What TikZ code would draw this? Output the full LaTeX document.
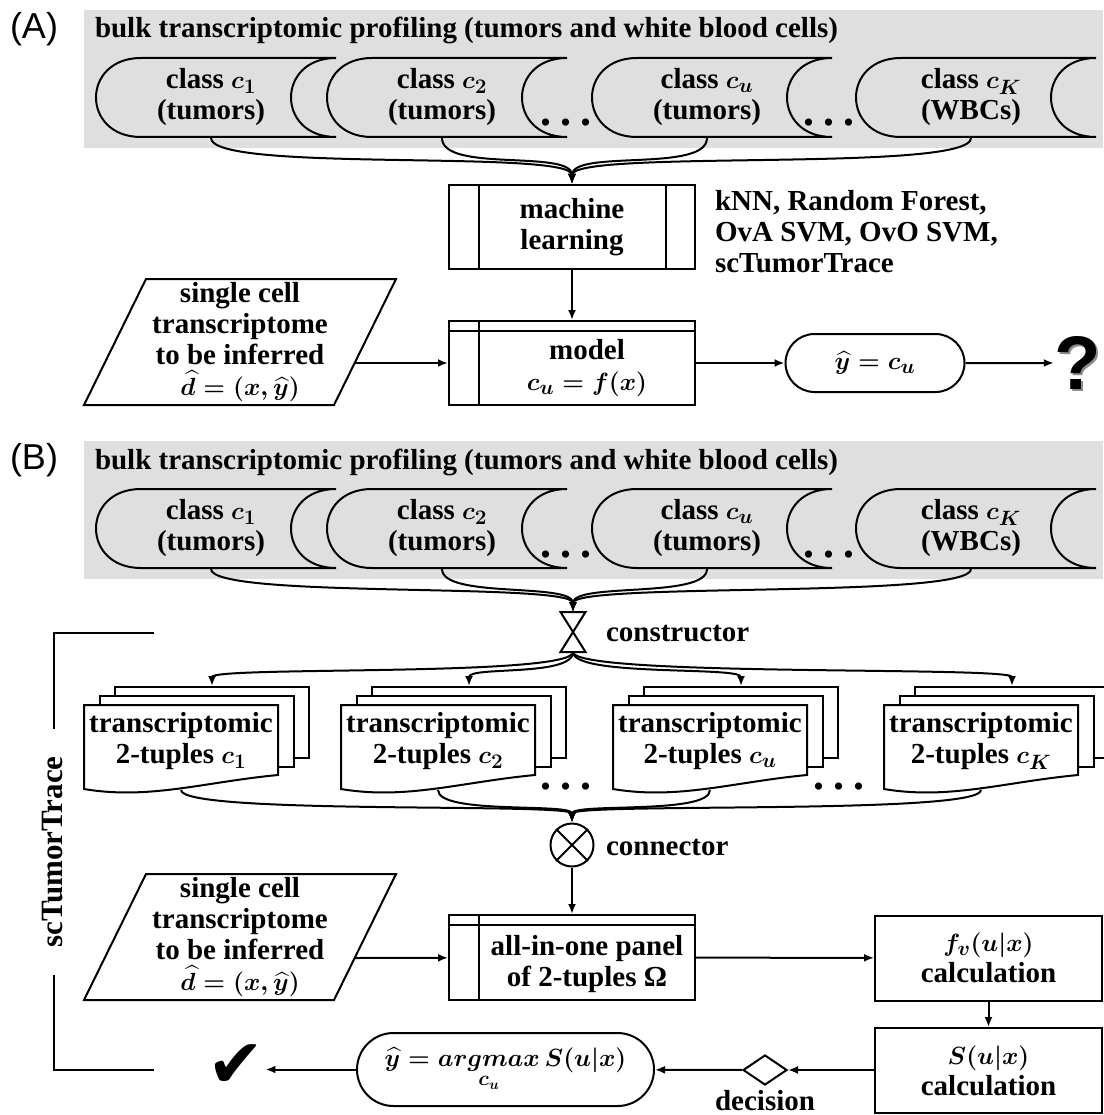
\documentclass[tikz,border=0pt]{standalone}
\usepackage{fontspec}
\setmainfont{Liberation Serif}
\setsansfont{Liberation Sans}
\newfontfamily\symfont{DejaVu Sans}
\usepackage{amsmath}
\DeclareMathSizes{29}{31}{20}{15}
\usetikzlibrary{arrows.meta,shapes.geometric,shapes.misc}
\definecolor{bandgray}{RGB}{223,223,223}
\definecolor{shadowgray}{RGB}{140,140,140}
\newcommand{\bigdots}{{\fontsize{44}{44}\selectfont .\hspace{9pt}.\hspace{9pt}.}}

\begin{document}
\begin{tikzpicture}[x=1pt,y=-1pt,>={Latex[length=10pt,width=8pt]},line width=2pt,
    every node/.style={font=\fontsize{29}{31}\selectfont\bfseries\boldmath,align=center,inner sep=0pt},
    panel/.style={font=\fontsize{36}{40}\selectfont\sffamily},
    box/.style={draw,minimum width=246pt,minimum height=84pt},
    calcbox/.style={draw,minimum width=227pt,minimum height=85pt},
    term/.style={draw,rounded rectangle},
    flow/.style={->}]
\useasboundingbox (0,0) rectangle (1103,1115);

% bulk profiling, panels A and B
\foreach \oy/\p/\q in {0/a/A,431/b/B}{
  \fill[bandgray] (84,{10+\oy}) rectangle (1103,{148+\oy});
  \node[panel] (lab\p) at (34,{29+\oy}) {(\q)};
  \node[anchor=base west] (ti\p) at (94,{38+\oy}) {bulk transcriptomic profiling (tumors and white blood cells)};
  \foreach \L/\s/\w [count=\i] in {96/1/tumors,327/2/tumors,592/u/tumors,856/K/WBCs}{
    \draw ({\L+45},{58+\oy}) -- ({\L+240},{58+\oy}) .. controls ({\L+180},{58+\oy}) and ({\L+180},{137+\oy}) .. ({\L+240},{137+\oy})
      -- ({\L+45},{137+\oy}) .. controls ({\L-15},{137+\oy}) and ({\L-15},{58+\oy}) .. cycle;
    \node[minimum height=79pt] (\p\i) at ({\L+115},{97.5+\oy}) {class $c_\s$\\(\w)};
  }
  \node[anchor=base] (dotsl\p) at (566,{126+\oy}) {\bigdots};
  \node[anchor=base] (dotsr\p) at (829,{126+\oy}) {\bigdots};
}

% input parallelograms
\foreach \cy/\p in {342/a,937/b}{
  \draw (84,{\cy+63}) -- (334,{\cy+63}) -- (396,{\cy-63}) -- (146,{\cy-63}) -- cycle;
  \node (sc\p) at (240,\cy) {single cell\\transcriptome\\to be inferred\\$\widehat{d} = (x, \widehat{y})$};
  \coordinate (out\p) at (355,{\cy+21});
}

% (A) machine learning
\node[box] (ml) at (572,227) {machine\\learning};
\draw ([xshift=31pt]ml.north west) -- ([xshift=31pt]ml.south west)
      ([xshift=-30pt]ml.north east) -- ([xshift=-30pt]ml.south east);
\foreach \i in {1,...,4} \draw[flow] (a\i.south) .. controls +(0,35) and +(0,-35) .. (ml.north);
\node[anchor=west,align=left] (algs) at (714,232) {kNN, Random Forest,\\OvA SVM, OvO SVM,\\scTumorTrace};

\node[box] (mod) at (572,363) {};
\draw ([yshift=-11pt]mod.north west) -- ([yshift=-11pt]mod.north east)
      ([xshift=31pt]mod.north west) -- ([xshift=31pt]mod.south west);
\node (modt) at (587,368) {model\\$c_u = f(x)$};
\draw[flow] (ml) -- (mod);
\draw[flow] (outa) -- (mod);

\node[term,minimum width=179pt,minimum height=58pt] (ya) at (875,363) {$\widehat{y} = c_u$};
\draw[flow] (mod) -- (ya);
\node[font=\fontsize{76}{76}\selectfont\sffamily\bfseries,text=shadowgray] (qms) at (1079.5,364.5) {?};
\node[font=\fontsize{76}{76}\selectfont\sffamily\bfseries] (qm) at (1078,363) {?};
\draw[flow] (ya) -- (qm);

% (B) constructor
\node[minimum width=23pt,minimum height=38pt] (con) at (573,632) {};
\draw (con.north west) -- (con.north east) -- (con.south west) -- (con.south east) -- cycle;
\node[anchor=west] (cont) at (605,634) {constructor};
\foreach \i in {1,...,4} \draw[flow] (b\i.south) .. controls +(0,30) and +(0,-30) .. (con.north);

% 2-tuples documents
\foreach \x/\s [count=\i] in {84/1,341/2,613/u,884/K}{
  \node[draw,fill=white,minimum width=194pt,minimum height=71pt] (k\i) at ({\x+128},722.5) {};
  \draw[fill=white] ({\x+15.5},696) rectangle ({\x+209.5},767);
  \draw[fill=white] (\x,705) -- ({\x+194},705) -- ({\x+194},775)
    .. controls ({\x+120},782) and ({\x+65},800) .. (\x,789) -- cycle;
  \node[minimum width=194pt,minimum height=84pt] (d\i) at ({\x+97},747) {};
  \node (dt\i) at ({\x+97},741.5) {transcriptomic\\2-tuples $c_\s$};
  \draw[flow] (con.south) .. controls +(0,25) and +(0,-20) .. (k\i.north);
}
\node[anchor=base] (dotsl) at (566,789) {\bigdots};
\node[anchor=base] (dotsr) at (839,789) {\bigdots};

% connector
\node[draw,circle,minimum size=43pt] (cn) at (572,845) {};
\draw (cn.north west) -- (cn.south east) (cn.north east) -- (cn.south west);
\node[anchor=west] (cnt) at (605,847) {connector};
\foreach \i in {1,...,4} \draw[flow] (d\i.south) .. controls +(0,25) and +(0,-20) .. (cn.north);

\node[box,minimum height=85pt] (pan) at (572,957.5) {};
\draw ([yshift=-11pt]pan.north west) -- ([yshift=-11pt]pan.north east)
      ([xshift=31pt]pan.north west) -- ([xshift=31pt]pan.south west);
\node (pant) at (587,964.5) {all-in-one panel\\of 2-tuples Ω};
\draw[flow] (cn) -- (pan);
\draw[flow] (outb) -- (pan);

\node[calcbox] (fv) at (988.5,958) {$f_v(u|x)$\\calculation};
\node[calcbox] (sb) at (988.5,1070.5) {$S(u|x)$\\calculation};
\draw[flow] (pan) -- (fv);
\draw[flow] (fv) -- (sb);

\node[draw,diamond,aspect=1.47,minimum width=44pt,minimum height=30pt] (dec) at (765,1070) {};
\node (dect) at (765,1101) {decision};
\draw[flow] (sb.west |- dec) -- (dec);
\node[term,minimum width=297pt,minimum height=73pt] (res) at (505.5,1069.5) {$\widehat{y} = \underset{c_u}{argmax}\,S(u|x)$};
\draw[flow] (dec) -- (res);
\node[font=\fontsize{68}{68}\selectfont\symfont] (chk) at (236,1066) {✔};
\draw[flow] (res.west) -- (res.west -| chk.east);

% scTumorTrace bracket
\draw (154,633) -- (54,633) -- (54,729);
\draw (54,975) -- (54,1070) -- (154,1070);
\node[rotate=90,font=\fontsize{31}{31}\selectfont\bfseries] (sct) at (53,852) {scTumorTrace};
\end{tikzpicture}
\end{document}
